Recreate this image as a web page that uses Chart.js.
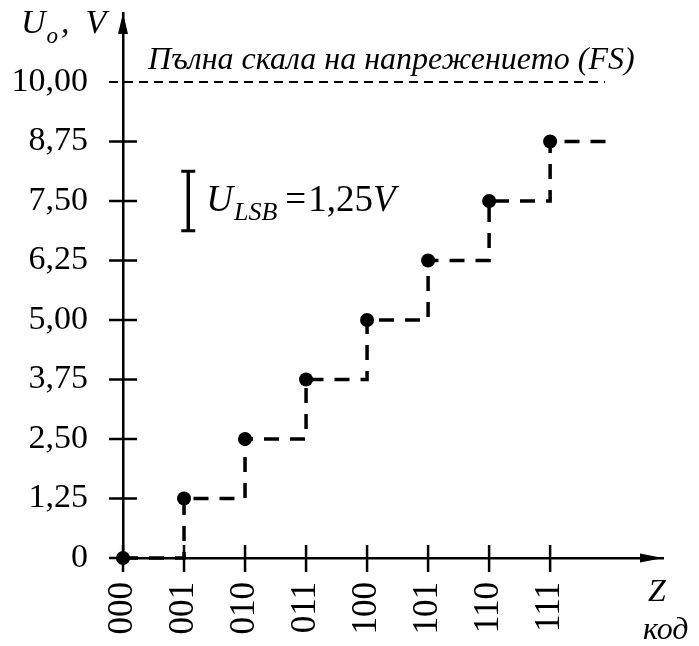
<!DOCTYPE html>
<html><head><meta charset="utf-8">
<script src="https://cdn.jsdelivr.net/npm/chart.js@4/dist/chart.umd.min.js"></script>
<style>html,body{margin:0;padding:0;background:#fff}canvas{display:block}</style>
</head><body>
<canvas id="c" width="699" height="646"></canvas>
<script>
// ---- data ----
const codes = ['000','001','010','011','100','101','110','111'];
const levels = [0, 1.25, 2.5, 3.75, 5.0, 6.25, 7.5, 8.75];
const yTickValues = [0, 1.25, 2.5, 3.75, 5, 6.25, 7.5, 8.75, 10];
const yTickLabels = ['0','1,25','2,50','3,75','5,00','6,25','7,50','8,75','10,00'];
const fullScale = 10;
const lsb = 1.25;
const stairEndX = 8;
const fsLineStartX = -0.23, fsLineEndX = 7.9;
const X_MAX = 8.85, Y_MAX = 11.45;
const FONT = "'Liberation Serif', 'Times New Roman', serif";

const stairData = codes.map((c, i) => ({x: i, y: levels[i]}));
stairData.push({x: stairEndX, y: levels[levels.length - 1]});
const stairRadius = stairData.map((p, i) => i < codes.length ? 7 : 0);

function line(ctx, x1, y1, x2, y2) {
  ctx.beginPath(); ctx.moveTo(x1, y1); ctx.lineTo(x2, y2); ctx.stroke();
}
function txt(ctx, s, x, y, size, italic) {
  ctx.font = (italic ? 'italic ' : '') + size + 'px ' + FONT;
  ctx.textAlign = 'left'; ctx.textBaseline = 'alphabetic';
  ctx.fillText(s, x, y);
  return x + ctx.measureText(s).width;
}

const decor = {
  id: 'decor',
  afterDraw(chart) {
    const {ctx, chartArea: a, scales: {x, y}} = chart;
    ctx.save();
    ctx.strokeStyle = '#000'; ctx.fillStyle = '#000';
    ctx.lineWidth = 2.5; ctx.setLineDash([]);
    // tick marks crossing the axes
    yTickValues.forEach(v => {
      if (v === fullScale) return;
      const py = y.getPixelForValue(v);
      line(ctx, a.left - 14, py, a.left + 14, py);
    });
    codes.forEach((c, i) => {
      const px = x.getPixelForValue(i);
      line(ctx, px, a.bottom - 13, px, a.bottom + 14);
    });
    // arrowheads
    const ox = x.getPixelForValue(0), oy = y.getPixelForValue(0);
    ctx.beginPath();
    ctx.moveTo(ox, a.top); ctx.lineTo(ox - 5, a.top + 21); ctx.lineTo(ox + 5, a.top + 21); ctx.closePath(); ctx.fill();
    ctx.beginPath();
    ctx.moveTo(a.right, oy); ctx.lineTo(a.right - 23, oy - 4.5); ctx.lineTo(a.right - 23, oy + 4.5); ctx.closePath(); ctx.fill();

    // LSB marker
    const bx = x.getPixelForValue(1.07);
    const by1 = y.getPixelForValue(levels[6] - lsb / 2), by2 = y.getPixelForValue(levels[6] + lsb / 2);
    ctx.lineWidth = 3.5;
    line(ctx, bx, by1, bx, by2);
    ctx.lineWidth = 3;
    line(ctx, bx - 7, by1, bx + 7, by1);
    line(ctx, bx - 7, by2, bx + 7, by2);
    const base = by2 + 40;
    let cx = txt(ctx, 'U', bx + 18, base, 37, true);
    cx = txt(ctx, 'LSB', cx + 1, base + 9, 26, true);
    cx = txt(ctx, '=', cx + 8, base, 37, false);
    cx = txt(ctx, '1,25', cx + 2, base, 37, false);
    txt(ctx, 'V', cx, base, 37, true);

    // full scale label
    const fy = y.getPixelForValue(fullScale);
    txt(ctx, 'Пълна скала на напрежението (FS)', x.getPixelForValue(0.41), fy - 13, 32, true);

    // y axis title
    let tx = txt(ctx, 'U', 21, 33, 34, true);
    tx = txt(ctx, 'o', tx + 1, 43, 23, true);
    tx = txt(ctx, ',', tx + 3, 33, 34, true);
    txt(ctx, 'V', tx + 16, 33, 34, true);

    // x axis title
    txt(ctx, 'Z', a.right - 15, oy + 43, 32, true);
    txt(ctx, 'код', a.right - 20, oy + 81, 32, true);
    ctx.restore();
  }
};

new Chart(document.getElementById('c'), {
  type: 'line',
  data: {
    datasets: [
      {
        label: 'Uo',
        data: stairData,
        stepped: 'before',
        borderColor: '#000',
        backgroundColor: '#000',
        borderWidth: 3.5,
        borderDash: [15, 11],
        pointRadius: stairRadius,
        pointBackgroundColor: '#000',
        pointBorderWidth: 0,
        fill: false,
        clip: false
      },
      {
        label: 'FS',
        data: [{x: fsLineStartX, y: fullScale}, {x: fsLineEndX, y: fullScale}],
        borderColor: '#000',
        borderWidth: 2,
        borderDash: [9, 6],
        pointRadius: 0,
        fill: false,
        clip: false
      }
    ]
  },
  options: {
    responsive: false,
    devicePixelRatio: 1,
    animation: false,
    layout: {padding: {top: 13, right: 36, bottom: 0, left: 0}},
    plugins: {legend: {display: false}, tooltip: {enabled: false}},
    scales: {
      x: {
        type: 'linear', min: 0, max: X_MAX,
        afterBuildTicks: s => { s.ticks = codes.map((c, i) => ({value: i})); },
        afterFit: s => { s.height = 88; s.paddingLeft = 0; s.paddingRight = 0; },
        grid: {display: true, drawOnChartArea: false, drawTicks: false},
        border: {display: true, color: '#000', width: 2.5},
        ticks: {
          autoSkip: false, minRotation: 90, maxRotation: 90, padding: 24,
          color: '#000', font: {family: FONT, size: 35},
          callback: (v, i) => codes[i]
        }
      },
      y: {
        type: 'linear', min: 0, max: Y_MAX,
        afterBuildTicks: s => { s.ticks = yTickValues.map(v => ({value: v})); },
        afterFit: s => { s.width = 123; s.paddingTop = 0; s.paddingBottom = 0; },
        grid: {display: true, drawOnChartArea: false, drawTicks: false},
        border: {display: true, color: '#000', width: 2.5},
        ticks: {
          autoSkip: false, padding: 35,
          color: '#000', font: {family: FONT, size: 34},
          callback: (v, i) => yTickLabels[i]
        }
      }
    }
  },
  plugins: [decor]
});
</script>
</body></html>
